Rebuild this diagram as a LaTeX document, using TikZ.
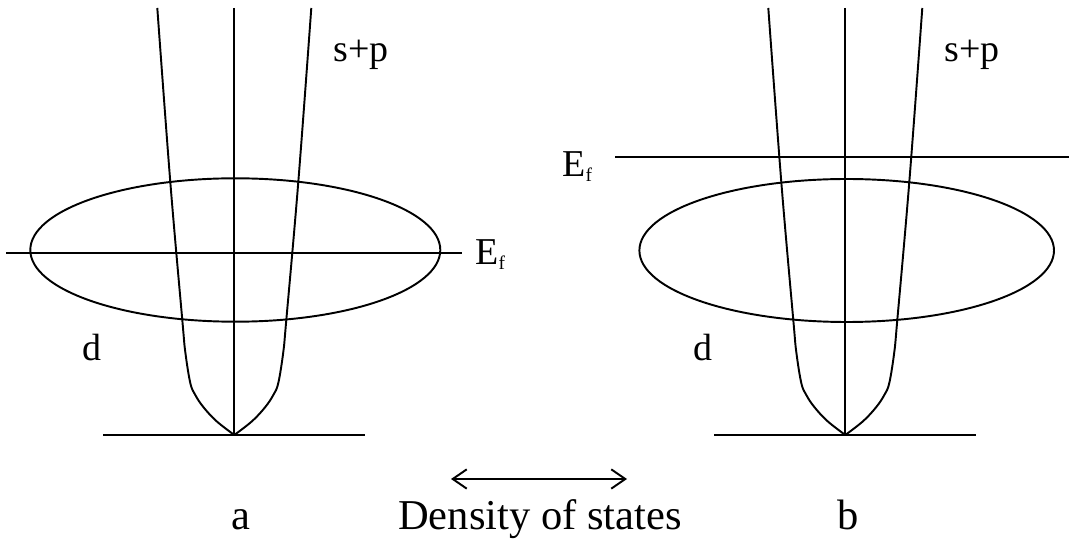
\documentclass[tikz,border=0pt]{standalone}
\usepackage{fontspec}
\setmainfont{Liberation Serif}
\usetikzlibrary{arrows.meta}
\tikzset{
  ln/.style={line width=1.1pt, black},
  lbl/.style={inner sep=0pt, font=\fontsize{21.6}{26}\selectfont},
  blbl/.style={inner sep=0pt, font=\fontsize{24.2}{29}\selectfont},
}
\newcommand{\Efl}{E\raisebox{-2.8pt}{\fontsize{11}{11}\selectfont f}}
\begin{document}
\begin{tikzpicture}[x={(0.02cm,0)}, y={(0,-0.02cm)}]
\useasboundingbox (0,0) rectangle (1069,540);
% ---- panel a ----
\begin{scope}[shift={(234.3,0)}]
  \draw[ln] (0,8) -- (0,435);
  \draw[ln] (-131,435) -- (131,435);
  \draw[ln] plot[smooth, tension=0.6] coordinates {(0,435) (-18,421) (-31,407) (-39,395) (-44,383) (-49,352) (-52,320) (-64,182) (-77,8)};
  \draw[ln] plot[smooth, tension=0.6] coordinates {(0,435) (18,421) (31,407) (39,395) (44,383) (49,352) (52,320) (64,182) (77,8)};
  \draw[ln] (1,250) ellipse [x radius=205, y radius=71.7];
  \draw[ln] (-228,253) -- (228,253);
\end{scope}
% ---- panel b ----
\begin{scope}[shift={(845.3,0)}]
  \draw[ln] (0,8) -- (0,435);
  \draw[ln] (-131,435) -- (131,435);
  \draw[ln] plot[smooth, tension=0.6] coordinates {(0,435) (-18,421) (-31,407) (-39,395) (-44,383) (-49,352) (-52,320) (-64,182) (-77,8)};
  \draw[ln] plot[smooth, tension=0.6] coordinates {(0,435) (18,421) (31,407) (39,395) (44,383) (49,352) (52,320) (64,182) (77,8)};
  \draw[ln] (1.4,250.5) ellipse [x radius=207.3, y radius=71.5];
  \draw[ln] (-230,157) -- (224,157);
\end{scope}
% ---- labels ----
\node[lbl, anchor=base west] (spa) at (333,62) {s+p};
\node[lbl, anchor=base west] (spb) at (944,62) {s+p};
\node[lbl, anchor=base west] (efa) at (475,265) {\Efl};
\node[lbl, anchor=base west] (efb) at (562,177) {\Efl};
\node[lbl, anchor=base west] (da) at (82,361) {d};
\node[lbl, anchor=base west] (db) at (693,361) {d};
\node[blbl, anchor=base] (la) at (241,530) {a};
\node[blbl, anchor=base] (lb) at (848,530) {b};
\node[blbl, anchor=base] (dos) at (540,530) {Density of states};
\coordinate (arL) at (451,479);
\coordinate (arR) at (627,479);
\draw[ln, {Straight Barb[length=8pt,width=11pt]}-{Straight Barb[length=8pt,width=11pt]}] (arL) -- (arR);
\end{tikzpicture}
\end{document}
